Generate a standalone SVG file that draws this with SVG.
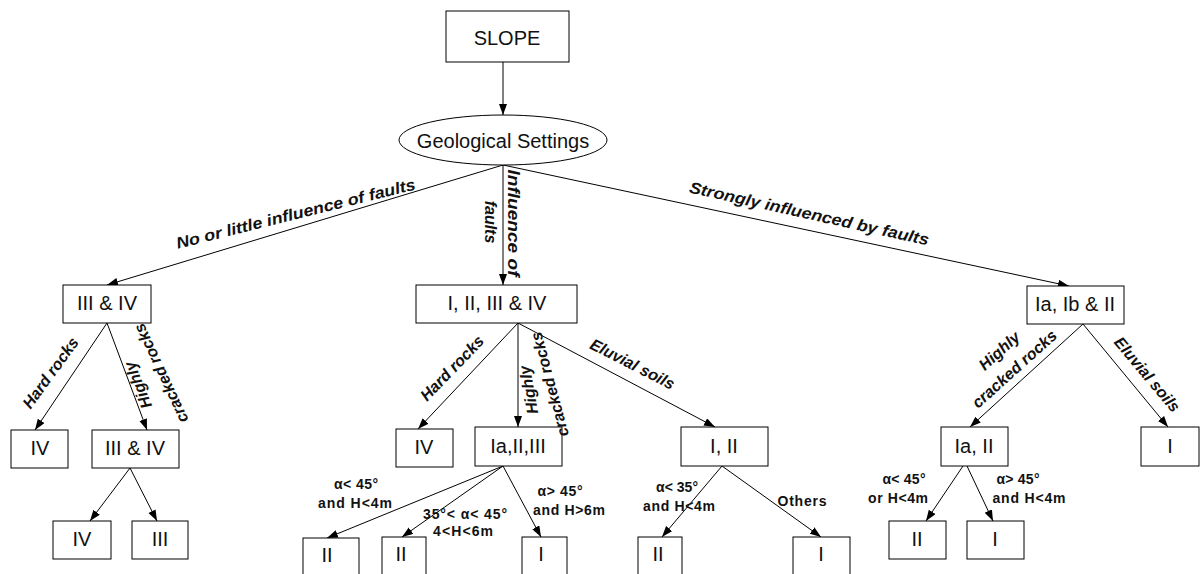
<svg xmlns="http://www.w3.org/2000/svg" width="1203" height="574" viewBox="0 0 1203 574">
<style>
.box{fill:#fff;stroke:#000;stroke-width:1}
.nt{font-family:"Liberation Sans",Arial,sans-serif;font-size:20px;text-anchor:middle;fill:#111}
.el{font-family:"Liberation Sans",Arial,sans-serif;font-size:16px;font-weight:bold;font-style:italic;text-anchor:middle;fill:#111}
.cl{font-family:"Liberation Sans",Arial,sans-serif;font-size:14px;font-weight:bold;text-anchor:middle;fill:#111}
.conn line{stroke:#000;stroke-width:1;marker-end:url(#arr)}
</style>
<defs>
<marker id="arr" markerWidth="12" markerHeight="10" refX="11" refY="4" orient="auto" markerUnits="userSpaceOnUse"><path d="M0,0 L11,4 L0,8 Z" fill="#000"/></marker>
</defs>
<rect width="1203" height="574" fill="#fff"/>
<g class="conn">
<line x1="503" y1="62" x2="503" y2="115"/>
<line x1="503" y1="165" x2="107" y2="285"/>
<line x1="503" y1="165" x2="503" y2="285"/>
<line x1="503" y1="165" x2="1069" y2="286"/>
<line x1="107" y1="323" x2="35" y2="430"/>
<line x1="107" y1="323" x2="147" y2="430"/>
<line x1="130" y1="468" x2="90" y2="521"/>
<line x1="130" y1="468" x2="157" y2="521"/>
<line x1="518" y1="323" x2="418" y2="429"/>
<line x1="518" y1="323" x2="518" y2="427"/>
<line x1="518" y1="323" x2="715" y2="427"/>
<line x1="503" y1="466" x2="327" y2="538"/>
<line x1="503" y1="466" x2="402" y2="537"/>
<line x1="503" y1="466" x2="541" y2="537"/>
<line x1="722" y1="466" x2="662" y2="537"/>
<line x1="722" y1="466" x2="821" y2="537"/>
<line x1="1083" y1="324" x2="970" y2="427"/>
<line x1="1083" y1="324" x2="1168" y2="427"/>
<line x1="963" y1="466" x2="926" y2="521"/>
<line x1="967" y1="466" x2="993" y2="521"/>
</g>
<g id="n-slope"><rect class="box" x="446" y="11" width="123" height="51"/><text class="nt" x="507" y="45">SLOPE</text></g>
<g id="n-geo"><ellipse class="box" cx="503" cy="140" rx="104" ry="25"/><text class="nt" x="503" y="148">Geological Settings</text></g>
<g id="n-l1"><rect class="box" x="63" y="285" width="88" height="38"/><text class="nt" x="107" y="310">III &amp; IV</text></g>
<g id="n-m1"><rect class="box" x="416" y="285" width="161" height="38"/><text class="nt" x="497" y="310">I, II, III &amp; IV</text></g>
<g id="n-r1"><rect class="box" x="1027" y="286" width="97" height="38"/><text class="nt" x="1075" y="311">Ia, Ib &amp; II</text></g>
<g id="n-l2a"><rect class="box" x="11" y="430" width="57" height="38"/><text class="nt" x="40" y="455">IV</text></g>
<g id="n-l2b"><rect class="box" x="92" y="430" width="87" height="38"/><text class="nt" x="135" y="455">III &amp; IV</text></g>
<g id="n-m2a"><rect class="box" x="396" y="429" width="57" height="38"/><text class="nt" x="424" y="454">IV</text></g>
<g id="n-m2b"><rect class="box" x="475" y="427" width="87" height="39"/><text class="nt" x="518" y="453">Ia,II,III</text></g>
<g id="n-m2c"><rect class="box" x="681" y="427" width="87" height="39"/><text class="nt" x="724" y="453">I, II</text></g>
<g id="n-r2a"><rect class="box" x="941" y="427" width="67" height="39"/><text class="nt" x="974" y="453">Ia, II</text></g>
<g id="n-r2b"><rect class="box" x="1141" y="427" width="58" height="39"/><text class="nt" x="1170" y="453">I</text></g>
<g id="n-l3a"><rect class="box" x="53" y="521" width="58" height="38"/><text class="nt" x="82" y="546">IV</text></g>
<g id="n-l3b"><rect class="box" x="132" y="521" width="56" height="38"/><text class="nt" x="160" y="546">III</text></g>
<g id="n-r3a"><rect class="box" x="889" y="521" width="57" height="38"/><text class="nt" x="917" y="546">II</text></g>
<g id="n-r3b"><rect class="box" x="967" y="521" width="57" height="38"/><text class="nt" x="995" y="546">I</text></g>
<g id="n-b1"><rect class="box" x="303" y="538" width="56" height="40"/><text class="nt" x="327" y="562">II</text></g>
<g id="n-b2"><rect class="box" x="382" y="537" width="44" height="40"/><text class="nt" x="401" y="561">II</text></g>
<g id="n-b3"><rect class="box" x="522" y="537" width="45" height="40"/><text class="nt" x="541" y="561">I</text></g>
<g id="n-b4"><rect class="box" x="638" y="537" width="44" height="40"/><text class="nt" x="658" y="561">II</text></g>
<g id="n-b5"><rect class="box" x="793" y="537" width="57" height="40"/><text class="nt" x="821" y="561">I</text></g>
<g id="labels">
<text class="el" transform="translate(297,219) rotate(-14)" textLength="246" lengthAdjust="spacingAndGlyphs">No or little influence of faults</text>
<text class="el" transform="translate(508,223) rotate(90)" textLength="107" lengthAdjust="spacingAndGlyphs">Influence of</text>
<text class="el" transform="translate(485,222) rotate(90)">faults</text>
<text class="el" transform="translate(808,219) rotate(12.5)" textLength="245" lengthAdjust="spacingAndGlyphs">Strongly influenced by faults</text>
<text class="el" transform="translate(55,376) rotate(-54)">Hard rocks</text>
<text class="el" transform="translate(143,383) rotate(-112)">Highly</text>
<text class="el" transform="translate(166,371) rotate(-115)">cracked rocks</text>
<text class="el" transform="translate(456,372) rotate(-46)">Hard rocks</text>
<text class="el" transform="translate(534,389) rotate(-100)">Highly</text>
<text class="el" transform="translate(555,383) rotate(-105)">cracked rocks</text>
<text class="el" transform="translate(630,369) rotate(27)">Eluvial soils</text>
<text class="el" transform="translate(1003,355) rotate(-42)">Highly</text>
<text class="el" transform="translate(1018,373) rotate(-42)">cracked rocks</text>
<text class="el" transform="translate(1143,378) rotate(50)">Eluvial soils</text>
<text class="cl" x="356" y="489" textLength="44">α&lt; 45°</text>
<text class="cl" x="355" y="508" textLength="74">and H&lt;4m</text>
<text class="cl" x="465" y="519" textLength="84">35°&lt; α&lt; 45°</text>
<text class="cl" x="463" y="536" textLength="60">4&lt;H&lt;6m</text>
<text class="cl" x="560" y="496" textLength="45">α&gt; 45°</text>
<text class="cl" x="569" y="515" textLength="72">and H&gt;6m</text>
<text class="cl" x="677" y="492" textLength="42">α&lt; 35°</text>
<text class="cl" x="679" y="511" textLength="72">and H&lt;4m</text>
<text class="cl" x="802" y="506" textLength="49">Others</text>
<text class="cl" x="904" y="484" textLength="43">α&lt; 45°</text>
<text class="cl" x="898" y="503" textLength="60">or H&lt;4m</text>
<text class="cl" x="1018" y="484" textLength="43">α&gt; 45°</text>
<text class="cl" x="1029" y="503" textLength="73">and H&lt;4m</text>
</g>
</svg>
